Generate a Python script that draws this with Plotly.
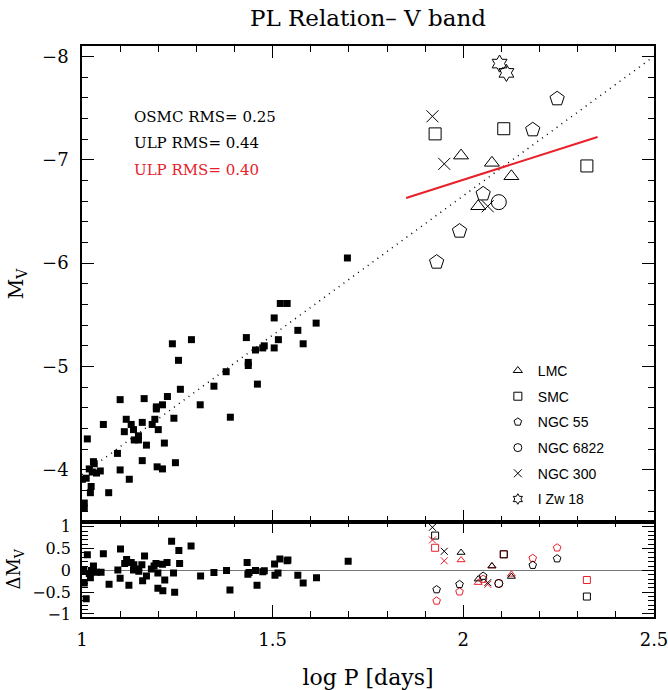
import plotly.graph_objects as go
from plotly.subplots import make_subplots

# OSMC Cepheids (filled squares)
osmc_logp = [1.696, 1.520, 1.538, 1.504, 1.614, 1.566, 1.580, 1.515, 1.504, 1.478,
             1.474, 1.455, 1.431, 1.436, 1.436, 1.460, 1.378, 1.346, 1.310, 1.389,
             1.287, 1.237, 1.253, 1.258, 1.224, 1.241, 1.211, 1.195, 1.195, 1.191,
             1.184, 1.200, 1.216, 1.245, 1.197, 1.211, 1.163, 1.158, 1.169, 1.158,
             1.148, 1.148, 1.137, 1.135, 1.129, 1.116, 1.111, 1.100, 1.093, 1.100,
             1.124, 1.056, 1.014, 1.070, 1.030, 1.032, 1.019, 1.027, 1.038, 1.048,
             1.011, 1.001, 1.024, 1.022, 1.006, 1.006]
osmc_mv = [-6.05, -5.61, -5.61, -5.47, -5.42, -5.35, -5.22, -5.26, -5.18, -5.20,
           -5.18, -5.16, -5.28, -5.04, -5.01, -4.83, -4.95, -4.81, -4.63, -4.51,
           -5.26, -5.22, -5.06, -4.78, -4.71, -4.50, -4.63, -4.61, -4.59, -4.49,
           -4.44, -4.39, -4.26, -4.07, -4.03, -4.01, -4.69, -4.46, -4.24, -4.09,
           -4.33, -4.29, -4.29, -4.39, -4.44, -4.49, -4.37, -4.68, -4.16, -4.00,
           -3.91, -4.44, -4.30, -3.78, -4.08, -4.06, -4.01, -3.98, -3.97, -3.99,
           -3.92, -3.91, -3.84, -3.78, -3.68, -3.63]

# OSMC residuals (bottom panel)
osmc_res_logp = [1.235, 1.286, 1.254, 1.101, 1.056, 1.014, 1.164, 1.117, 1.129, 1.112,
                 1.136, 1.157, 1.194, 1.211, 1.223, 1.256, 1.189, 1.182, 1.141, 1.149,
                 1.135, 1.094, 1.050, 1.030, 1.024, 1.038, 1.004, 1.019, 1.022, 1.006,
                 1.011, 1.071, 1.100, 1.123, 1.159, 1.169, 1.199, 1.240, 1.217, 1.199,
                 1.212, 1.243, 1.311, 1.346, 1.379, 1.388, 1.433, 1.435, 1.438, 1.455,
                 1.459, 1.474, 1.478, 1.505, 1.506, 1.514, 1.519, 1.538, 1.540, 1.566,
                 1.580, 1.615, 1.698]
osmc_res = [0.67, 0.56, 0.46, 0.49, 0.38, 0.36, 0.33, 0.25, 0.18, 0.16,
            0.13, 0.13, 0.16, 0.14, 0.18, 0.16, 0.10, 0.03, 0.03, -0.02,
            0.01, 0.01, -0.04, 0.10, 0.00, -0.04, 0.00, -0.07, -0.17, -0.29,
            -0.65, -0.32, -0.18, -0.34, -0.24, -0.13, -0.06, -0.06, -0.22, -0.41,
            -0.47, -0.50, -0.13, -0.05, 0.00, -0.45, 0.18, -0.09, -0.05, 0.00,
            -0.34, -0.03, -0.01, 0.15, -0.11, -0.06, 0.26, 0.22, 0.24, -0.11,
            -0.29, -0.17, 0.21]

# ULP Cepheids by host galaxy
lmc_logp = [1.994, 2.075, 2.126, 2.039]
lmc_mv = [-7.04, -6.97, -6.84, -6.55]
lmc_dm_osmc = [0.41, 0.10, -0.14, -0.20]
lmc_dm_ulp = [0.24, 0.10, -0.09, -0.28]

smc_logp = [1.926, 2.106, 2.324]
smc_mv = [-7.25, -7.30, -6.94]
smc_dm_osmc = [0.80, 0.37, -0.60]
smc_dm_ulp = [0.52, 0.37, -0.22]

ngc55_logp = [2.246, 2.182, 2.052, 1.990, 1.930]
ngc55_mv = [-7.59, -7.29, -6.67, -6.31, -6.01]
ngc55_dm_osmc = [0.27, 0.12, -0.13, -0.32, -0.44]
ngc55_dm_ulp = [0.52, 0.28, -0.20, -0.49, -0.70]

ngc6822_logp = [2.093]
ngc6822_mv = [-6.59]
ngc6822_dm_osmc = [-0.30]
ngc6822_dm_ulp = [-0.30]

ngc300_logp = [1.919, 1.950, 2.064]
ngc300_mv = [-7.42, -6.96, -6.55]
ngc300_dm_osmc = [0.99, 0.44, -0.28]
ngc300_dm_ulp = [0.70, 0.22, -0.32]

izw18_logp = [2.095, 2.113]
izw18_mv = [-7.93, -7.84]

# PL fits
osmc_fit_logp = [1.0, 2.5]
osmc_fit_mv = [-3.955, -8.0]
ulp_fit_logp = [1.850, 2.352]
ulp_fit_mv = [-6.63, -7.22]

RED = "#e8202a"

fig = make_subplots(rows=2, cols=1, shared_xaxes=True, vertical_spacing=0,
                    row_heights=[0.833, 0.167])

fig.add_trace(go.Scatter(x=osmc_fit_logp, y=osmc_fit_mv, mode="lines",
                         line=dict(color="black", width=1.5, dash="1px,5px"),
                         showlegend=False), row=1, col=1)
fig.add_trace(go.Scatter(x=ulp_fit_logp, y=ulp_fit_mv, mode="lines",
                         line=dict(color=RED, width=2), showlegend=False), row=1, col=1)
fig.add_trace(go.Scatter(x=osmc_logp, y=osmc_mv, mode="markers",
                         marker=dict(symbol="square", size=7, color="black"),
                         showlegend=False), row=1, col=1)
fig.add_trace(go.Scatter(x=osmc_res_logp, y=osmc_res, mode="markers",
                         marker=dict(symbol="square", size=7, color="black"),
                         showlegend=False), row=2, col=1)

galaxies = [
    ("LMC", "triangle-up-open", 13, 7, lmc_logp, lmc_mv, lmc_dm_osmc, lmc_dm_ulp),
    ("SMC", "square-open", 12, 7, smc_logp, smc_mv, smc_dm_osmc, smc_dm_ulp),
    ("NGC 55", "pentagon-open", 15, 8, ngc55_logp, ngc55_mv, ngc55_dm_osmc, ngc55_dm_ulp),
    ("NGC 6822", "circle-open", 15, 8, ngc6822_logp, ngc6822_mv, ngc6822_dm_osmc, ngc6822_dm_ulp),
    ("NGC 300", "x-thin-open", 12, 7, ngc300_logp, ngc300_mv, ngc300_dm_osmc, ngc300_dm_ulp),
    ("I Zw 18", "hexagram-open", 13, 7, izw18_logp, izw18_mv, None, None),
]

for name, sym, size, rsize, lp, mv, dm_o, dm_u in galaxies:
    fig.add_trace(go.Scatter(x=lp, y=mv, mode="markers", showlegend=False,
                             marker=dict(symbol=sym, size=size, color="black",
                                         line=dict(color="black", width=1))),
                  row=1, col=1)
    if dm_o is not None:
        fig.add_trace(go.Scatter(x=lp, y=dm_u, mode="markers", showlegend=False,
                                 marker=dict(symbol=sym, size=rsize, color=RED,
                                             line=dict(color=RED, width=1))),
                      row=2, col=1)
        fig.add_trace(go.Scatter(x=lp, y=dm_o, mode="markers", showlegend=False,
                                 marker=dict(symbol=sym, size=rsize, color="black",
                                             line=dict(color="black", width=1))),
                      row=2, col=1)
    # legend entry with small symbol
    fig.add_trace(go.Scatter(x=[None], y=[None], mode="markers", name=name,
                             legendgroup=name,
                             marker=dict(symbol=sym, size=8, color="black",
                                         line=dict(color="black", width=1))),
                  row=1, col=1)

axis_common = dict(showline=True, linecolor="black", linewidth=1.5, mirror="allticks",
                   ticks="inside", ticklen=12, tickwidth=1, tickcolor="black",
                   showgrid=False, zeroline=False, automargin=False,
                   minor=dict(ticks="inside", ticklen=6, tickwidth=1, tickcolor="black"))

fig.update_xaxes(axis_common)
fig.update_yaxes(axis_common)

fig.update_xaxes(range=[1, 2.5], tick0=1, dtick=0.5, minor_dtick=0.1,
                 showticklabels=False, row=1, col=1)
fig.update_xaxes(range=[1, 2.5], tick0=1, dtick=0.5, minor_dtick=0.1,
                 showticklabels=True, tickfont=dict(size=18), ticklabelstandoff=6,
                 ticklabeloverflow="allow",
                 title=dict(text="log P [days]", font=dict(size=22), standoff=21),
                 row=2, col=1)
fig.update_yaxes(range=[-3.5, -8.1], tick0=-8, dtick=1, minor_dtick=0.2,
                 tickfont=dict(size=18), ticklabelstandoff=8,
                 title=dict(text="M<sub>V</sub>", font=dict(size=20), standoff=13),
                 row=1, col=1)
fig.update_yaxes(range=[-1.07, 1.12], tick0=0, dtick=0.5, minor_dtick=0.1,
                 tickfont=dict(size=16), ticklabelstandoff=6,
                 zeroline=True, zerolinecolor="#777777", zerolinewidth=1,
                 title=dict(text="\u0394M<sub>V</sub>", font=dict(size=18), standoff=7),
                 row=2, col=1)

rms_text = [("OSMC RMS= 0.25", "black", 0.876),
            ("ULP RMS= 0.44", "black", 0.830),
            ("ULP RMS= 0.40", RED, 0.783)]
for txt, col, yy in rms_text:
    fig.add_annotation(text=txt, xref="paper", yref="paper", x=0.088, y=yy,
                       xanchor="left", yanchor="middle", showarrow=False,
                       font=dict(size=15, color=col))

fig.update_layout(
    width=668, height=690,
    margin=dict(l=82, r=14, t=46, b=73, autoexpand=False),
    paper_bgcolor="white", plot_bgcolor="white",
    font=dict(family="DejaVu Serif", color="black"),
    title=dict(text="PL Relation\u2013 V band", x=0.5, xref="paper",
               y=0.974, yanchor="middle", font=dict(size=23)),
    legend=dict(x=0.727, y=0.459, xanchor="left", yanchor="top",
                font=dict(family="Liberation Sans", size=14),
                traceorder="grouped", tracegroupgap=4.5,
                bgcolor="rgba(0,0,0,0)", borderwidth=0),
    showlegend=True,
)

# drop the default 8px page margin so the figure sits at the window's corner
fig.write_html("out.html", config={"displayModeBar": False},
               post_script="document.body.style.margin='0';"
                           "document.documentElement.style.overflow='hidden';")
